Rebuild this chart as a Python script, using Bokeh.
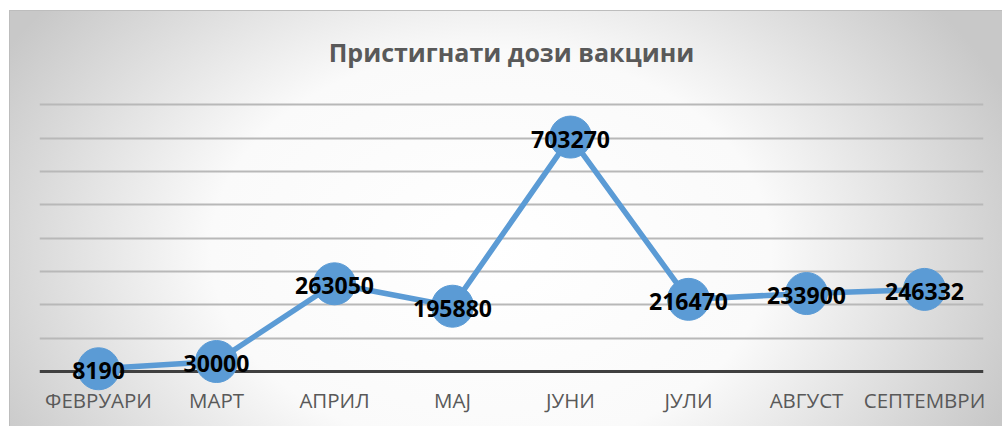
from bokeh.plotting import figure
from bokeh.models import Range1d, FactorRange, FixedTicker, Span, ColumnDataSource
from bokeh.core.properties import value
from bokeh.embed import file_html
from bokeh.resources import INLINE

title_text = "Пристигнати дози вакцини"
months = ["ФЕВРУАРИ", "МАРТ", "АПРИЛ", "МАЈ", "ЈУНИ", "ЈУЛИ", "АВГУСТ", "СЕПТЕМВРИ"]
doses = [8190, 30000, 263050, 195880, 703270, 216470, 233900, 246332]
grid_ticks = [100000, 200000, 300000, 400000, 500000, 600000, 700000, 800000]

src = ColumnDataSource(dict(month=months, dose=doses, label=[str(d) for d in doses]))

p = figure(
    width=1002, height=426,
    x_range=FactorRange(*months),
    y_range=Range1d(-60000, 810000),
    output_backend="svg", toolbar_location=None,
    title=title_text,
    min_border_left=39, min_border_right=19, min_border_top=100, min_border_bottom=35,
)
p.border_fill_color = None
p.background_fill_color = None
p.outline_line_color = None
p.styles = {
    "background": (
        "linear-gradient(#bdbdbd, #bdbdbd) 9px 10px / 993px 1px no-repeat, "
        "linear-gradient(#bdbdbd, #bdbdbd) 9px 10px / 1px 416px no-repeat, "
        "radial-gradient(ellipse 560px 400px at 482px 240px, #ffffff 0%, #fafafa 50%, #c8c8c8 100%) 9px 10px / 993px 416px no-repeat, "
        "#ffffff"
    ),
}

p.title.text_font = "Open Sans"
p.title.text_font_size = "25px"
p.title.text_font_style = "bold"
p.title.text_color = "#595959"
p.title.align = "center"
p.title.standoff = 65

p.yaxis.visible = False
p.xgrid.visible = False
p.ygrid.ticker = FixedTicker(ticks=grid_ticks)
p.ygrid.grid_line_color = "#b8b8b8"
p.ygrid.grid_line_width = 2

p.xaxis.axis_line_color = None
p.xaxis.major_tick_line_color = None
p.xaxis.minor_tick_line_color = None
p.xaxis.major_tick_out = 0
p.xaxis.major_tick_in = 0
p.xaxis.major_label_standoff = -6
p.xaxis.major_label_text_font = "Open Sans"
p.xaxis.major_label_text_font_size = "20.5px"
p.xaxis.major_label_text_color = "#595959"

base = Span(location=0, dimension="width", line_color="#404040", line_width=3, level="underlay")
p.add_layout(base)

p.line(x="month", y="dose", source=src, line_color="#5b9bd5", line_width=5.5)
p.scatter(x="month", y="dose", source=src, size=42, fill_color="#5b9bd5", line_color="#5b9bd5")
p.text(x="month", y="dose", text="label", source=src, text_align="center", text_baseline="middle",
       text_font=value("Open Sans"), text_font_style="bold", text_font_size="23px",
       text_color="#000000", y_offset=2)

open("out.html", "w").write(file_html(p, INLINE))
